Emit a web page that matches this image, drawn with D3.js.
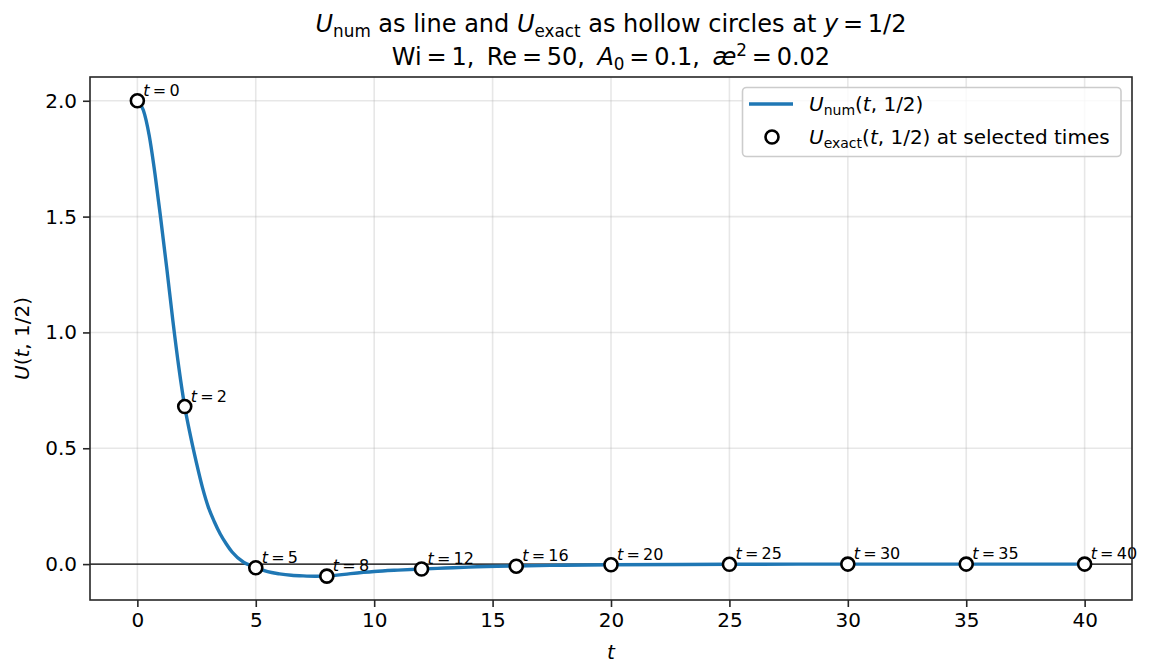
<!DOCTYPE html>
<html><head><meta charset="utf-8">
<script src="https://cdn.jsdelivr.net/npm/d3@7"></script>
<style>body{margin:0;background:#fff}svg{display:block;font-family:"DejaVu Sans",sans-serif}text{white-space:pre}</style>
</head><body>
<svg id="c" width="1149" height="671"></svg>
<script>
// Numerical solution U_num(t, 1/2)
const lineT = [0,0.25,0.5,0.75,1,1.25,1.5,1.75,2,2.25,2.5,2.75,3,3.25,3.5,3.75,4,4.5,5,5.5,6,6.5,7,7.5,8,9,10,11,12,13,14,16,18,20,25,30,35,40];
const lineU = [2.0,1.96,1.85,1.68,1.48,1.27,1.05,0.85,0.68,0.55,0.435,0.33,0.245,0.183,0.13,0.088,0.052,0.007,-0.013,-0.033,-0.042,-0.048,-0.051,-0.0525,-0.052,-0.041,-0.032,-0.026,-0.021,-0.017,-0.013,-0.008,-0.005,-0.003,-0.001,0,0,0];
// Exact solution at selected times
const exactT = [0,2,5,8,12,16,20,25,30,35,40];
const exactU = [2.0,0.68,-0.016,-0.052,-0.021,-0.009,-0.003,-0.001,0,0,0];
const xTicks = [0,5,10,15,20,25,30,35,40];
const yTicks = [0,0.5,1.0,1.5,2.0];

const svg = d3.select("#c");
const L=90,R=1132,T=77,B=600;
const x = d3.scaleLinear().domain([-2,42]).range([L,R]);
const y = d3.scaleLinear().domain([-0.155,2.1026]).range([B,T]);
const TS = "\u2009=\u2009";

// grid
const g = svg.append("g");
g.selectAll(".gx").data(xTicks).join("line").attr("x1",d=>x(d)).attr("x2",d=>x(d)).attr("y1",T).attr("y2",B).attr("stroke","#b0b0b0").attr("stroke-opacity",0.3).attr("stroke-width",1.6);
g.selectAll(".gy").data(yTicks).join("line").attr("y1",d=>y(d)).attr("y2",d=>y(d)).attr("x1",L).attr("x2",R).attr("stroke","#b0b0b0").attr("stroke-opacity",0.3).attr("stroke-width",1.6);

// zero line
svg.append("line").attr("x1",L).attr("x2",R).attr("y1",y(0)).attr("y2",y(0)).attr("stroke","#000").attr("stroke-width",1.4);

// line
const pts = lineT.map((t,i)=>[t,lineU[i]]);
svg.append("path").datum(pts).attr("fill","none").attr("stroke","#1f77b4").attr("stroke-width",3.4)
  .attr("d",d3.line().x(d=>x(d[0])).y(d=>y(d[1])).curve(d3.curveMonotoneX));

// circles
const ex = exactT.map((t,i)=>[t,exactU[i]]);
svg.selectAll(".pt").data(ex).join("circle").attr("cx",d=>x(d[0])).attr("cy",d=>y(d[1])).attr("r",6.5)
  .attr("fill","#fff").attr("stroke","#000").attr("stroke-width",2.6);

// annotations
const ann = svg.selectAll(".ann").data(ex).join("text").attr("x",d=>x(d[0])+6).attr("y",d=>y(d[1])-5)
  .attr("font-size",16).attr("fill","#000");
ann.append("tspan").attr("font-style","italic").text("t");
ann.append("tspan").text(d=>TS+d[0]);

// frame
svg.append("rect").attr("x",L).attr("y",T).attr("width",R-L).attr("height",B-T).attr("fill","none").attr("stroke","#262626").attr("stroke-width",1.6);

// axes
const xa = svg.append("g").attr("transform",`translate(0,${B})`).call(d3.axisBottom(x).tickValues(xTicks).tickSize(7).tickPadding(6).tickFormat(d3.format("d")));
const ya = svg.append("g").attr("transform",`translate(${L},0)`).call(d3.axisLeft(y).tickValues(yTicks).tickSize(7).tickPadding(6).tickFormat(d3.format(".1f")));
[xa,ya].forEach(a=>{a.select(".domain").remove();a.selectAll("line").attr("stroke","#262626").attr("stroke-width",1.6);
  a.selectAll("text").attr("font-size",20).attr("font-family","DejaVu Sans").attr("fill","#000");});

// rich text helper
function rich(sel, segs, fs){
  segs.forEach(s=>{
    const sp = sel.append("tspan").text(s.t);
    if(s.i) sp.attr("font-style","italic");
    if(s.sub){sp.attr("font-size",fs*0.7).attr("dy",fs*0.22);}
    if(s.sup){sp.attr("font-size",fs*0.7).attr("dy",-fs*0.38);}
    if(s.back) sp.attr("dy",s.back);
  });
}
// axis labels
svg.append("text").attr("x",(L+R)/2).attr("y",659).attr("text-anchor","middle").attr("font-size",20).attr("font-style","italic").text("t");
const yl = svg.append("text").attr("transform",`translate(29,${(T+B)/2}) rotate(-90)`).attr("text-anchor","middle").attr("font-size",20);
rich(yl,[{t:"U",i:true},{t:"("},{t:"t",i:true},{t:", 1/2)"}],20);

// title
const fs=24;
const t1 = svg.append("text").attr("x",(L+R)/2).attr("y",32).attr("text-anchor","middle").attr("font-size",fs);
rich(t1,[{t:"U",i:true},{t:"num",sub:true},{t:" as line and ",back:-fs*0.22},{t:"U",i:true},{t:"exact",sub:true},{t:" as hollow circles at ",back:-fs*0.22},{t:"y",i:true},{t:TS+"1/2"}],fs);
const t2 = svg.append("text").attr("x",(L+R)/2).attr("y",65).attr("text-anchor","middle").attr("font-size",fs);
rich(t2,[{t:"Wi"+TS+"1,\u2009 Re"+TS+"50,\u2009 "},{t:"A",i:true},{t:"0",sub:true},{t:TS+"0.1,\u2009 ",back:-fs*0.22},{t:"æ",i:true},{t:"2",sup:true},{t:TS+"0.02",back:fs*0.38}],fs);

// legend
const lg = svg.append("g");
lg.append("rect").attr("x",742.5).attr("y",87.5).attr("width",378.5).attr("height",69).attr("rx",4).attr("fill","#fff").attr("fill-opacity",0.8).attr("stroke","#cccccc").attr("stroke-width",1.6);
lg.append("line").attr("x1",749).attr("x2",793).attr("y1",104).attr("y2",104).attr("stroke","#1f77b4").attr("stroke-width",3.4);
lg.append("circle").attr("cx",772).attr("cy",137).attr("r",6.5).attr("fill","#fff").attr("stroke","#000").attr("stroke-width",2.6);
const lfs=20;
const l1 = lg.append("text").attr("x",809).attr("y",111).attr("font-size",lfs);
rich(l1,[{t:"U",i:true},{t:"num",sub:true},{t:"(",back:-lfs*0.22},{t:"t",i:true},{t:", 1/2)"}],lfs);
const l2 = lg.append("text").attr("x",809).attr("y",144).attr("font-size",lfs);
rich(l2,[{t:"U",i:true},{t:"exact",sub:true},{t:"(",back:-lfs*0.22},{t:"t",i:true},{t:", 1/2) at selected times"}],lfs);
</script>
</body></html>
